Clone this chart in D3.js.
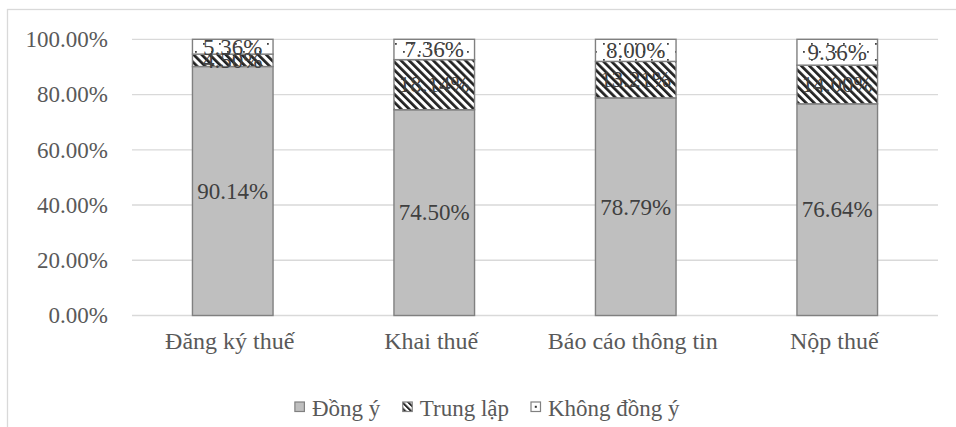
<!DOCTYPE html>
<html>
<head>
<meta charset="utf-8">
<script src="https://cdn.jsdelivr.net/npm/d3@7"></script>
<style>
  html, body { margin: 0; padding: 0; background: #fff; }
  svg { display: block; }
</style>
</head>
<body>
<svg id="chart" width="956" height="427"></svg>
<script>
// Survey answers per tax procedure (percent of respondents)
const categories = ["Đăng ký thuế", "Khai thuế", "Báo cáo thông tin", "Nộp thuế"];
const seriesNames = ["Đồng ý", "Trung lập", "Không đồng ý"];
const agree    = [90.14, 74.50, 78.79, 76.64];
const neutral  = [4.50, 18.14, 13.21, 14.00];
const disagree = [5.36, 7.36, 8.00, 9.36];
const tickValues = [0, 20, 40, 60, 80, 100];

const seriesValues = [agree, neutral, disagree];
const rows = categories.map((c, i) => {
  const r = { category: c };
  seriesNames.forEach((s, j) => { r[s] = seriesValues[j][i]; });
  return r;
});

const FONT = "'Liberation Serif', 'Times New Roman', serif";
const svg = d3.select("#chart");
const frame = { x: 7.5, y: 9.5, w: 960 };
const plot = { left: 132, right: 938, top: 39.3, bottom: 315.5 };

// chart frame
svg.append("rect").attr("x", frame.x).attr("y", frame.y).attr("width", frame.w).attr("height", 1000)
  .attr("fill", "none").attr("stroke", "#d9d9d9").attr("stroke-width", 1.3);

// fill patterns
const defs = svg.append("defs");
const stripe = defs.append("pattern").attr("id", "pat-neutral")
  .attr("patternUnits", "userSpaceOnUse").attr("width", 5.7).attr("height", 5.7)
  .attr("patternTransform", "rotate(-45)");
stripe.append("rect").attr("width", 5.7).attr("height", 5.7).attr("fill", "#ffffff");
stripe.append("rect").attr("width", 2.7).attr("height", 5.7).attr("fill", "#222");

const dots = defs.append("pattern").attr("id", "pat-disagree")
  .attr("patternUnits", "userSpaceOnUse").attr("width", 16).attr("height", 16);
dots.append("rect").attr("width", 16).attr("height", 16).attr("fill", "#ffffff");
dots.append("rect").attr("x", 3).attr("y", 3).attr("width", 1.8).attr("height", 1.8).attr("fill", "#444");
dots.append("rect").attr("x", 11).attr("y", 11).attr("width", 1.8).attr("height", 1.8).attr("fill", "#444");

// small legend-sized variants
const stripeSm = defs.append("pattern").attr("id", "pat-neutral-sm")
  .attr("patternUnits", "userSpaceOnUse").attr("width", 4.2).attr("height", 4.2)
  .attr("patternTransform", "rotate(-45)");
stripeSm.append("rect").attr("width", 4.2).attr("height", 4.2).attr("fill", "#ffffff");
stripeSm.append("rect").attr("width", 2).attr("height", 4.2).attr("fill", "#222");

const fills = { "Đồng ý": "#bfbfbf", "Trung lập": "url(#pat-neutral)", "Không đồng ý": "url(#pat-disagree)" };
const legendFills = { "Đồng ý": "#bfbfbf", "Trung lập": "url(#pat-neutral-sm)", "Không đồng ý": "#ffffff" };

const x = d3.scaleBand().domain(categories).range([plot.left, plot.right]).paddingInner(0.6).paddingOuter(0.3);
const y = d3.scaleLinear().domain([0, 100]).range([plot.bottom, plot.top]);

// gridlines
svg.append("g").selectAll("line").data(tickValues).join("line")
  .attr("x1", plot.left).attr("x2", plot.right)
  .attr("y1", d => y(d)).attr("y2", d => y(d))
  .attr("stroke", "#d9d9d9").attr("stroke-width", 1.3);

// y axis labels
const yAxis = d3.axisLeft(y).tickValues(tickValues).tickSize(0).tickPadding(0)
  .tickFormat(d => d.toFixed(2) + "%");
const yg = svg.append("g").attr("transform", "translate(108,0)").call(yAxis);
yg.select(".domain").remove();
yg.attr("font-family", null).attr("font-size", null);
yg.selectAll("text").attr("fill", "#595959")
  .style("font-family", FONT).style("font-size", "23px");

// stacked bars
const layers = d3.stack().keys(seriesNames)(rows);
const lg = svg.append("g").selectAll("g").data(layers).join("g")
  .attr("fill", d => fills[d.key]);
lg.selectAll("rect").data(d => d).join("rect")
  .attr("x", d => x(d.data.category))
  .attr("width", x.bandwidth())
  .attr("y", d => y(d[1]))
  .attr("height", d => y(d[0]) - y(d[1]))
  .attr("stroke", "#808080").attr("stroke-width", 1.4);

// data labels centred in each segment
layers.forEach(layer => {
  svg.append("g").selectAll("text").data(layer).join("text")
    .attr("x", d => x(d.data.category) + x.bandwidth() / 2)
    .attr("y", d => (y(d[0]) + y(d[1])) / 2)
    .attr("dy", "0.34em")
    .attr("text-anchor", "middle")
    .attr("fill", "#404040")
    .style("font-family", FONT).style("font-size", "23px")
    .text(d => (d[1] - d[0]).toFixed(2) + "%");
});

// category axis labels
const xAxis = d3.axisBottom(x).tickSize(0).tickPadding(0);
const xg = svg.append("g").attr("transform", `translate(-3,${plot.bottom + 33})`).call(xAxis);
xg.select(".domain").remove();
xg.attr("font-family", null).attr("font-size", null);
xg.selectAll("text").attr("fill", "#595959").attr("dy", 0)
  .style("font-family", FONT).style("font-size", "24px");

// legend, centred under the chart frame
const legendG = svg.append("g");
const items = legendG.selectAll("g").data(seriesNames).join("g");
items.append("rect").attr("y", -14).attr("width", 9.5).attr("height", 9.5)
  .attr("fill", d => legendFills[d]).attr("stroke", "#808080").attr("stroke-width", 1.2);
items.filter(d => d === "Không đồng ý").append("rect")
  .attr("x", 3.8).attr("y", -10.2).attr("width", 2).attr("height", 2).attr("fill", "#333");
items.append("text").attr("x", 17).attr("y", 0).attr("fill", "#595959")
  .style("font-family", FONT).style("font-size", "23px")
  .text(d => d);
let cursor = 0;
items.each(function() {
  const g = d3.select(this);
  g.attr("transform", `translate(${cursor},0)`);
  cursor += this.getBBox().width + 22;
});
const legendWidth = cursor - 22;
legendG.attr("transform", `translate(${frame.x + frame.w / 2 - legendWidth / 2},416)`);
</script>
</body>
</html>
